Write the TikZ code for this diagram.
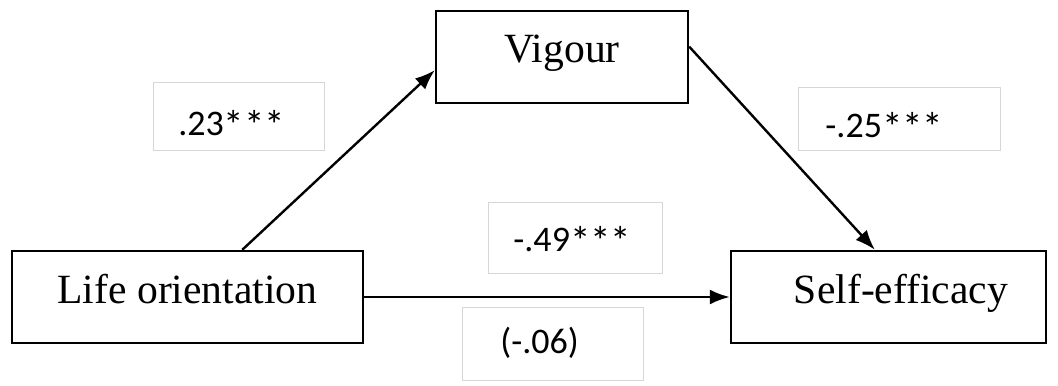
\documentclass[tikz,border=0pt]{standalone}
\usepackage{fontspec}
\setmainfont{Liberation Serif}
\newfontfamily\lblfont{Carlito}
\usetikzlibrary{arrows.meta,calc}
\newcommand{\stars}{\raisebox{-2pt}{\fontsize{20.5}{21}\selectfont***}}
\begin{document}
\begin{tikzpicture}[x=0.5pt,y=-0.5pt,
  varbox/.style={draw=black,line width=1.2pt,inner sep=0pt,font=\fontsize{20.8}{24}\selectfont,text height=10pt,text depth=4pt},
  lblbox/.style={draw=black!16,line width=0.5pt,inner sep=0pt},
  lbltext/.style={font=\lblfont\fontsize{18}{21}\selectfont,inner sep=0pt,anchor=base west},
  arr/.style={line width=1.2pt,-{Latex[length=10pt,width=7.5pt]}}]
\useasboundingbox (0,0) rectangle (1058,385);
% variable boxes
\node[varbox,minimum width=126pt,minimum height=46pt] (vig) at (562,57) {Vigour};
\node[varbox,minimum width=175.5pt,minimum height=46pt] (lo) at (187.5,297) {Life orientation};
\node[varbox,minimum width=157.5pt,minimum height=46pt] (se) at (888.5,297) {\hspace*{12.5pt}Self-efficacy};
% label boxes
\node[lblbox,minimum width=85.5pt,minimum height=33.5pt] (b23) at (238.5,116.5) {};
\node[lblbox,minimum width=101pt,minimum height=31pt] (b25) at (899,119) {};
\node[lblbox,minimum width=87pt,minimum height=35.5pt] (b49) at (575,237.5) {};
\node[lblbox,minimum width=90.5pt,minimum height=36.5pt] (b06) at (552.5,343.5) {};
% label texts
\node[lbltext] (t23) at (178,135) {.23\stars};
\node[lbltext] (t25) at (825,137) {-.25\stars};
\node[lbltext] (t49) at (513,251) {-.49\stars};
\node[lbltext] (t06) at (500,353) {(-.06)};
% connectors
\coordinate (a1) at ($(lo.north west)!0.655!(lo.north east)$);
\coordinate (a2) at ($(vig.north west)!0.64!(vig.south west)$);
\coordinate (b1) at ($(vig.north east)!0.39!(vig.south east)$);
\coordinate (b2) at ($(se.north west)!0.457!(se.north east)$);
\draw[arr] (a1) -- (a2);
\draw[arr] (b1) -- (b2);
\draw[arr] (lo.east) -- (se.west);
\end{tikzpicture}
\end{document}
